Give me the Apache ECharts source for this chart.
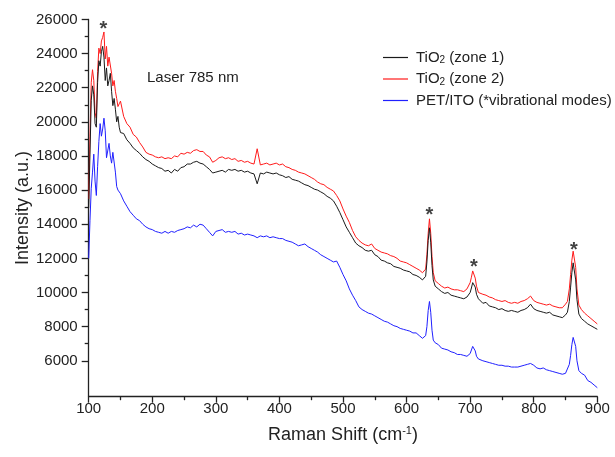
<!DOCTYPE html>
<html>
<head>
<meta charset="utf-8">
<script src="https://cdn.jsdelivr.net/npm/echarts@6/dist/echarts.min.js"></script>
<style>html,body{margin:0;padding:0;background:#fff}#c{width:615px;height:457px}</style>
</head>
<body>
<div id="c"></div>
<script>
// Raman shift (cm-1)
const shift = [
  100,102,104,106,108,110,112,114,116,118,120,122,124,126,128,130,132,134,136,138,140,142,144,146,148,150,
  155,160,165,170,175,180,185,190,195,200,205,210,215,220,225,230,235,240,245,250,255,260,265,270,275,280,285,290,295,300,
  305,310,315,320,325,330,335,340,345,350,355,360,365,370,375,380,385,390,395,400,405,410,415,420,425,430,435,440,445,450,
  455,460,465,470,475,480,485,490,495,500,505,510,515,520,525,530,535,540,545,550,555,560,565,570,575,580,585,590,595,600,
  605,610,615,620,625,
  628,630,632,634,636,638,640,642,645,
  650,655,660,665,670,675,680,685,690,695,
  698,700,702,704,706,708,710,713,
  715,720,725,730,735,740,745,750,755,760,765,770,775,780,785,790,795,800,805,810,815,820,825,830,835,840,845,850,
  853,856,858,860,862,864,866,868,871,875,
  880,885,890,895,900
];
// TiO2 (zone 1)
const zone1 = [
  15500,18500,21500,22300,21800,20200,20000,22500,23700,23400,24200,24500,23900,22600,23300,22300,22600,23000,22000,21200,21600,21000,20300,20600,20000,19700,
  19650,19300,19100,18850,18700,18550,18350,18200,18100,17950,17850,17750,17700,17550,17600,17450,17650,17550,17750,17800,17950,17950,18050,18100,18000,17950,17800,17650,17450,17500,
  17550,17600,17500,17650,17600,17650,17550,17600,17500,17550,17450,17400,16850,17450,17400,17500,17450,17400,17450,17350,17300,17200,17250,17100,17050,17000,16900,16800,16750,16650,
  16550,16500,16400,16300,16150,16050,15900,15600,15250,14850,14450,14150,13850,13550,13400,13300,13150,13100,13150,12900,12800,12600,12550,12450,12400,12250,12200,12150,12050,12000,
  11950,11800,11750,11650,11500,
  11450,11700,12500,13700,14400,13600,12300,11500,11150,
  11000,10850,10750,10800,10650,10600,10550,10500,10450,10550,
  10600,10800,11050,11350,11450,11100,10700,10450,
  10350,10200,10250,10050,10000,9950,9850,9900,9800,9750,9800,9750,9700,9800,9850,9950,10150,9900,9800,9750,9700,9650,9700,9550,9500,9450,9400,9550,
  9700,10300,11100,11900,12450,12400,11500,10400,9600,9350,
  9200,9050,8950,8850,8750
];
// TiO2 (zone 2)
const zone2 = [
  16000,19500,22500,23200,22600,20800,20500,23100,24400,24100,24800,25000,25300,23800,24500,23400,23900,23800,23000,22300,22600,22000,21600,21150,21300,21450,
  20600,20200,20000,19600,19450,19150,18900,18600,18500,18450,18350,18300,18350,18250,18300,18250,18400,18350,18550,18500,18600,18550,18700,18750,18650,18650,18450,18350,18050,18150,
  18300,18350,18250,18300,18200,18250,18100,18150,18050,18100,18000,17950,18800,17900,17950,18000,17900,17950,18000,17900,17950,17800,17750,17650,17600,17500,17450,17400,17300,17200,
  17100,16950,16850,16800,16650,16550,16450,16200,15900,15450,15050,14700,14250,13900,13700,13550,13450,13400,13500,13250,13150,13050,13000,12950,12850,12800,12700,12550,12500,12450,
  12350,12250,12150,12050,11900,
  11850,12100,12900,14100,14900,14100,12800,11900,11450,
  11300,11150,11050,11100,11000,10950,10950,10900,10850,11000,
  11100,11350,11650,12000,12050,11600,11150,10800,
  10800,10700,10650,10550,10500,10400,10350,10300,10350,10250,10200,10250,10200,10300,10350,10450,10600,10350,10250,10200,10150,10100,10150,10050,10000,9950,9950,10150,
  10300,11000,11800,12600,13100,13050,12200,11000,10100,9850,
  9650,9500,9350,9200,9050
];
// PET/ITO
const petIto = [
  12700,14800,16600,17500,18500,17000,16200,17800,19200,20200,19500,19900,20500,19800,18300,18400,19100,18400,18000,18600,18700,17500,16700,16500,16400,16300,
  15900,15600,15300,15100,14900,14800,14600,14450,14350,14300,14200,14150,14100,14200,14100,14200,14150,14250,14300,14350,14450,14400,14550,14450,14600,14550,14350,14150,13950,14200,
  14250,14300,14150,14200,14150,14200,14050,14100,14000,14050,14000,13950,13850,13950,13900,13950,13850,13900,13850,13800,13800,13700,13650,13600,13500,13400,13450,13500,13350,13250,
  13150,13050,12900,12800,12700,12600,12500,12550,12200,11800,11450,11000,10650,10350,10000,9850,9750,9650,9600,9500,9400,9300,9200,9150,9050,8950,8900,8800,8750,8700,
  8650,8550,8550,8400,8250,
  8250,8400,8900,9800,10300,9700,8700,8150,8000,
  7900,7700,7650,7600,7500,7450,7350,7350,7300,7250,
  7250,7400,7600,7800,7850,7550,7250,7100,
  7050,7000,6950,6900,6850,6800,6750,6750,6700,6700,6650,6650,6650,6700,6750,6800,6850,6750,6600,6550,6600,6500,6450,6400,6350,6300,6250,6300,
  6350,6800,7300,7900,8300,8350,7800,7000,6450,6300,
  6200,5900,5800,5650,5500
];
// Peak markers (*)
const starShift = [123, 636, 706, 863];
const starIntensity = [25700, 15350, 12450, 13400];

const seriesNames = ['TiO{s|2} (zone 1)', 'TiO{s|2} (zone 2)', 'PET/ITO (*vibrational modes)'];
const colors = ['#1a1a1a', '#ff1a1a', '#2020ff'];

const FONT = '"Liberation Sans", Arial, sans-serif';
const pair = arr => shift.map((x, i) => [x, arr[i]]);

const chart = echarts.init(document.getElementById('c'), null, {renderer: 'canvas'});
const axisColor = '#222';
chart.setOption({
  animation: false,
  backgroundColor: '#fff',
  grid: [
    {left: 88.7, right: 17.7, top: 19.4, bottom: 60.3},
    {left: 88.7, right: 17.7, top: 19.4, bottom: 96.2}
  ],
  xAxis: [
    {
      gridIndex: 0, type: 'value', min: 100, max: 900, interval: 100,
      name: 'Raman Shift (cm{sup|-1})', nameLocation: 'middle', nameGap: 29,
      nameTextStyle: {fontFamily: FONT, fontSize: 18, color: '#222',
        rich: {sup: {fontFamily: FONT, fontSize: 11, color: '#222', verticalAlign: 'top', padding: [0,0,8,0]}}},
      axisLine: {onZero: false, lineStyle: {color: axisColor, width: 1.3}},
      axisTick: {length: 6, lineStyle: {color: axisColor, width: 1.3}},
      minorTick: {show: true, splitNumber: 2, length: 3.5, lineStyle: {color: axisColor, width: 1.3}},
      axisLabel: {margin: 5, fontFamily: FONT, fontSize: 15, color: '#222', formatter: v => String(v)},
      splitLine: {show: false}, minorSplitLine: {show: false}
    },
    {gridIndex: 1, type: 'value', min: 100, max: 900, show: false}
  ],
  yAxis: [
    {
      gridIndex: 0, type: 'value', min: 5000, max: 26000, interval: 1000,
      name: 'Intensity (a.u.)', nameLocation: 'middle', nameGap: 57,
      nameTextStyle: {fontFamily: FONT, fontSize: 18, color: '#222'},
      axisLine: {show: true, onZero: false, lineStyle: {color: axisColor, width: 1.3}},
      axisTick: {show: false}, axisLabel: {show: false},
      splitLine: {show: false}
    },
    {
      gridIndex: 1, type: 'value', min: 6000, max: 26000, interval: 2000,
      axisLine: {show: false},
      axisTick: {show: true, length: 7, lineStyle: {color: axisColor, width: 1.3}},
      minorTick: {show: true, splitNumber: 2, length: 4, lineStyle: {color: axisColor, width: 1.3}},
      axisLabel: {margin: 11, fontFamily: FONT, fontSize: 15, color: '#222', formatter: v => String(v)},
      splitLine: {show: false}, minorSplitLine: {show: false}
    }
  ],
  legend: {
    orient: 'vertical', left: 378, top: 45, itemWidth: 25, itemHeight: 1.2, itemGap: 6,
    icon: 'rect',
    data: seriesNames,
    textStyle: {fontFamily: FONT, fontSize: 15, color: '#222', padding: [0,0,0,3],
      rich: {s: {fontFamily: FONT, fontSize: 10, color: '#222', verticalAlign: 'bottom', padding: [6,0,0,0]}}}
  },
  graphic: [{
    type: 'text', left: 147, top: 70,
    style: {text: 'Laser 785 nm', font: '15px ' + FONT, fill: '#222'}
  }],
  series: [
    ...[zone1, zone2, petIto].map((arr, i) => ({
      name: seriesNames[i], type: 'line', xAxisIndex: 0, yAxisIndex: 0,
      data: pair(arr), symbol: 'none', showSymbol: false,
      lineStyle: {color: colors[i], width: 1}, itemStyle: {color: colors[i]},
      z: 3 - i
    })),
    {
      type: 'scatter', xAxisIndex: 0, yAxisIndex: 0, symbolSize: 0,
      data: starShift.map((x, i) => [x, starIntensity[i]]),
      label: {show: true, position: 'inside', formatter: '*', fontFamily: FONT, fontWeight: 'bold',
        fontSize: 20, color: '#111', offset: [0, 5]},
      silent: true, z: 5
    }
  ]
});
</script>
</body>
</html>
